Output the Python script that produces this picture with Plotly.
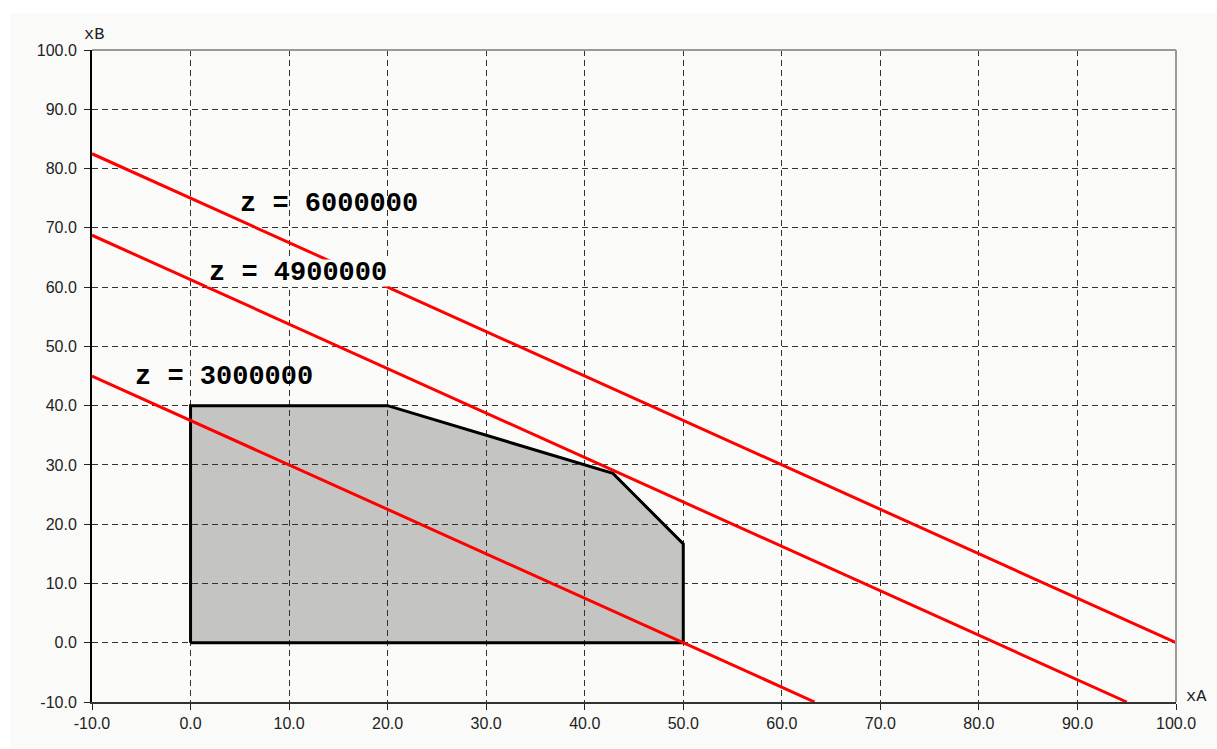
import plotly.graph_objects as go

# Feasible region vertices (xA, xB)
region_x = [0, 0, 20, 30, 42.86, 45, 50, 50, 0]
region_y = [0, 40, 40, 35, 28.57, 25, 16.67, 0, 0]

# Iso-profit lines z = 60000 xA + 80000 xB (endpoints)
z_labels = ["z = 3000000", "z = 4900000", "z = 6000000"]
line_x = [[-10, 63.33], [-10, 95.0], [-10, 100.0]]
line_y = [[45.0, -10], [68.75, -10], [82.5, 0.0]]
label_x = [3.4, 10.9, 14.1]
label_y = [44.8, 62.3, 74.1]

tick_vals = [-10, 0, 10, 20, 30, 40, 50, 60, 70, 80, 90, 100]
tick_text = ["%.1f" % v for v in tick_vals]

fig = go.Figure()

# background panel
fig.add_shape(type="rect", xref="paper", yref="paper",
              x0=-82 / 1084, x1=1.1, y0=-0.2, y1=1 + 37 / 652,
              fillcolor="#fafbf9", line_width=0, layer="below")

# filled region below gridlines
path = "M " + " L ".join(f"{x},{y}" for x, y in zip(region_x, region_y)) + " Z"
fig.add_shape(type="path", path=path, xref="x", yref="y",
              fillcolor="#c4c5c3", line_width=0, layer="below")

fig.add_trace(go.Scatter(x=region_x, y=region_y, mode="lines",
                         line=dict(color="black", width=3),
                         hoverinfo="skip", showlegend=False))

for lx, ly in zip(line_x, line_y):
    fig.add_trace(go.Scatter(x=lx, y=ly, mode="lines",
                             line=dict(color="#ff0000", width=3),
                             showlegend=False))

for i, (t, ax_, ay_) in enumerate(zip(z_labels, label_x, label_y)):
    kw = {}
    if i == 1:
        kw = dict(bgcolor="#fafbf9", height=24, borderpad=1)
    fig.add_annotation(x=ax_, y=ay_, text=t, showarrow=False,
                       font=dict(family="Liberation Mono", size=27,
                                 color="black", weight="bold"),
                       **kw)

# axis titles
fig.add_annotation(x=-10, y=100, text="xB", showarrow=False,
                   xanchor="center", yanchor="bottom", yshift=4, xshift=2,
                   font=dict(family="Liberation Mono", size=17, color="#222"))
fig.add_annotation(x=100, y=-10, text="xA", showarrow=False,
                   xanchor="left", yanchor="middle", xshift=8, yshift=6,
                   font=dict(family="Liberation Mono", size=17, color="#222"))

# top and right borders
fig.add_shape(type="line", xref="paper", yref="paper", x0=0, x1=1, y0=1, y1=1,
              line=dict(color="#999999", width=2), layer="above")
fig.add_shape(type="line", xref="paper", yref="paper", x0=1, x1=1, y0=0, y1=1,
              line=dict(color="#999999", width=2), layer="above")

axis_common = dict(
    tickmode="array", tickvals=tick_vals, ticktext=tick_text,
    showgrid=True, gridcolor="#333333", gridwidth=1, griddash="6px,4px",
    zeroline=False, showline=True, linewidth=2,
    ticks="outside", ticklen=6, tickwidth=1, tickcolor="#222",
    tickfont=dict(family="Liberation Sans", size=16, color="#222"),
    fixedrange=True,
)

fig.update_xaxes(range=[-10, 100], linecolor="#333333", **axis_common)
fig.update_yaxes(range=[-10, 100], linecolor="black", ticklabelstandoff=4,
                 **axis_common)

fig.update_layout(
    width=1217, height=749,
    margin=dict(l=92, r=41, t=50, b=47, autoexpand=False),
    paper_bgcolor="white", plot_bgcolor="#fafbf9",
    showlegend=False,
)

fig.write_html("out.html", config={"displayModeBar": False},
               post_script="document.body.style.margin='0';document.body.style.padding='0';")
